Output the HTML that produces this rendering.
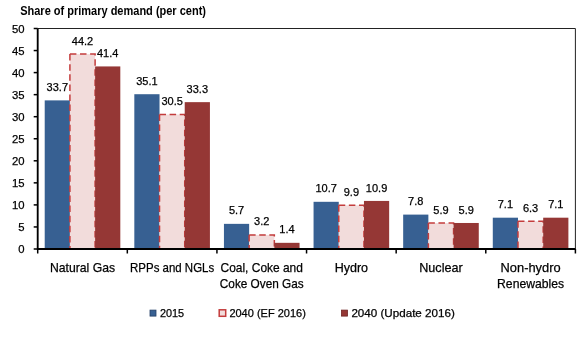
<!DOCTYPE html><html><head><meta charset="utf-8"><style>html,body{margin:0;padding:0;background:#fff;width:580px;height:338px;overflow:hidden}svg{display:block;will-change:transform}text{font-family:"Liberation Sans",sans-serif;fill:#000;stroke:#000;stroke-width:0.25px}</style></head><body>
<svg width="580" height="338" viewBox="0 0 580 338">
<text x="20.2" y="14.6" font-size="12" font-weight="bold" style="stroke-width:0" textLength="185.8" lengthAdjust="spacingAndGlyphs">Share of primary demand (per cent)</text>
<rect x="44.71" y="100.38" width="25.20" height="148.62" fill="#376092"/>
<text x="57.31" y="90.98" font-size="11" text-anchor="middle">33.7</text>
<rect x="69.91" y="54.08" width="25.20" height="194.92" fill="#F2DCDB"/>
<path d="M69.91,54.08 V249.00 M69.91,54.08 H95.11 V249.00" fill="none" stroke="#C43C3C" stroke-width="1.5" stroke-dasharray="6.5,3.6"/>
<text x="82.51" y="44.68" font-size="11" text-anchor="middle">44.2</text>
<rect x="95.11" y="66.43" width="25.20" height="182.57" fill="#953735"/>
<text x="107.71" y="57.03" font-size="11" text-anchor="middle">41.4</text>
<rect x="134.32" y="94.21" width="25.20" height="154.79" fill="#376092"/>
<text x="146.92" y="84.81" font-size="11" text-anchor="middle">35.1</text>
<rect x="159.52" y="114.50" width="25.20" height="134.50" fill="#F2DCDB"/>
<path d="M159.52,114.50 V249.00 M159.52,114.50 H184.72 V249.00" fill="none" stroke="#C43C3C" stroke-width="1.5" stroke-dasharray="6.5,3.6"/>
<text x="172.12" y="105.09" font-size="11" text-anchor="middle">30.5</text>
<rect x="184.72" y="102.15" width="25.20" height="146.85" fill="#953735"/>
<text x="197.32" y="92.75" font-size="11" text-anchor="middle">33.3</text>
<rect x="223.94" y="223.86" width="25.20" height="25.14" fill="#376092"/>
<text x="236.54" y="214.46" font-size="11" text-anchor="middle">5.7</text>
<rect x="249.14" y="234.89" width="25.20" height="14.11" fill="#F2DCDB"/>
<path d="M249.14,234.89 V249.00 M249.14,234.89 H274.34 V249.00" fill="none" stroke="#C43C3C" stroke-width="1.5" stroke-dasharray="6.5,3.6"/>
<text x="261.74" y="225.49" font-size="11" text-anchor="middle">3.2</text>
<rect x="274.34" y="242.83" width="25.20" height="6.17" fill="#953735"/>
<text x="286.94" y="233.43" font-size="11" text-anchor="middle">1.4</text>
<rect x="313.56" y="201.81" width="25.20" height="47.19" fill="#376092"/>
<text x="326.16" y="192.41" font-size="11" text-anchor="middle">10.7</text>
<rect x="338.76" y="205.34" width="25.20" height="43.66" fill="#F2DCDB"/>
<path d="M338.76,205.34 V249.00 M338.76,205.34 H363.96 V249.00" fill="none" stroke="#C43C3C" stroke-width="1.5" stroke-dasharray="6.5,3.6"/>
<text x="351.36" y="195.94" font-size="11" text-anchor="middle">9.9</text>
<rect x="363.96" y="200.93" width="25.20" height="48.07" fill="#953735"/>
<text x="376.56" y="191.53" font-size="11" text-anchor="middle">10.9</text>
<rect x="403.17" y="214.60" width="25.20" height="34.40" fill="#376092"/>
<text x="415.77" y="205.20" font-size="11" text-anchor="middle">7.8</text>
<rect x="428.37" y="222.98" width="25.20" height="26.02" fill="#F2DCDB"/>
<path d="M428.37,222.98 V249.00 M428.37,222.98 H453.57 V249.00" fill="none" stroke="#C43C3C" stroke-width="1.5" stroke-dasharray="6.5,3.6"/>
<text x="440.97" y="213.58" font-size="11" text-anchor="middle">5.9</text>
<rect x="453.57" y="222.98" width="25.20" height="26.02" fill="#953735"/>
<text x="466.17" y="213.58" font-size="11" text-anchor="middle">5.9</text>
<rect x="492.79" y="217.69" width="25.20" height="31.31" fill="#376092"/>
<text x="505.39" y="208.29" font-size="11" text-anchor="middle">7.1</text>
<rect x="517.99" y="221.22" width="25.20" height="27.78" fill="#F2DCDB"/>
<path d="M517.99,221.22 V249.00 M517.99,221.22 H543.19 V249.00" fill="none" stroke="#C43C3C" stroke-width="1.5" stroke-dasharray="6.5,3.6"/>
<text x="530.59" y="211.82" font-size="11" text-anchor="middle">6.3</text>
<rect x="543.19" y="217.69" width="25.20" height="31.31" fill="#953735"/>
<text x="555.79" y="208.29" font-size="11" text-anchor="middle">7.1</text>
<path d="M37.7,28.5 H575.4 V249.0" fill="none" stroke="#222" stroke-width="1"/>
<path d="M37.7,28.5 V249.0 H575.4" fill="none" stroke="#000" stroke-width="1.85"/>
<line x1="33.7" y1="249.0" x2="37.7" y2="249.0" stroke="#000" stroke-width="1.5"/>
<text x="24.50" y="253.10" font-size="11.3" text-anchor="end">0</text>
<line x1="33.7" y1="226.95" x2="37.7" y2="226.95" stroke="#000" stroke-width="1.5"/>
<text x="24.50" y="231.05" font-size="11.3" text-anchor="end">5</text>
<line x1="33.7" y1="204.9" x2="37.7" y2="204.9" stroke="#000" stroke-width="1.5"/>
<text x="24.50" y="209.00" font-size="11.3" text-anchor="end">10</text>
<line x1="33.7" y1="182.85" x2="37.7" y2="182.85" stroke="#000" stroke-width="1.5"/>
<text x="24.50" y="186.95" font-size="11.3" text-anchor="end">15</text>
<line x1="33.7" y1="160.8" x2="37.7" y2="160.8" stroke="#000" stroke-width="1.5"/>
<text x="24.50" y="164.90" font-size="11.3" text-anchor="end">20</text>
<line x1="33.7" y1="138.75" x2="37.7" y2="138.75" stroke="#000" stroke-width="1.5"/>
<text x="24.50" y="142.85" font-size="11.3" text-anchor="end">25</text>
<line x1="33.7" y1="116.69999999999999" x2="37.7" y2="116.69999999999999" stroke="#000" stroke-width="1.5"/>
<text x="24.50" y="120.80" font-size="11.3" text-anchor="end">30</text>
<line x1="33.7" y1="94.65" x2="37.7" y2="94.65" stroke="#000" stroke-width="1.5"/>
<text x="24.50" y="98.75" font-size="11.3" text-anchor="end">35</text>
<line x1="33.7" y1="72.6" x2="37.7" y2="72.6" stroke="#000" stroke-width="1.5"/>
<text x="24.50" y="76.70" font-size="11.3" text-anchor="end">40</text>
<line x1="33.7" y1="50.55000000000001" x2="37.7" y2="50.55000000000001" stroke="#000" stroke-width="1.5"/>
<text x="24.50" y="54.65" font-size="11.3" text-anchor="end">45</text>
<line x1="33.7" y1="28.5" x2="37.7" y2="28.5" stroke="#000" stroke-width="1.5"/>
<text x="24.50" y="32.60" font-size="11.3" text-anchor="end">50</text>
<line x1="37.7" y1="249.0" x2="37.7" y2="253.5" stroke="#000" stroke-width="1.5"/>
<line x1="127.31666666666666" y1="249.0" x2="127.31666666666666" y2="253.5" stroke="#000" stroke-width="1.5"/>
<line x1="216.93333333333334" y1="249.0" x2="216.93333333333334" y2="253.5" stroke="#000" stroke-width="1.5"/>
<line x1="306.54999999999995" y1="249.0" x2="306.54999999999995" y2="253.5" stroke="#000" stroke-width="1.5"/>
<line x1="396.16666666666663" y1="249.0" x2="396.16666666666663" y2="253.5" stroke="#000" stroke-width="1.5"/>
<line x1="485.7833333333333" y1="249.0" x2="485.7833333333333" y2="253.5" stroke="#000" stroke-width="1.5"/>
<line x1="575.4" y1="249.0" x2="575.4" y2="253.5" stroke="#000" stroke-width="1.5"/>
<text x="82.51" y="271.60" font-size="13" text-anchor="middle" textLength="65.2" lengthAdjust="spacingAndGlyphs">Natural Gas</text>
<text x="172.12" y="271.60" font-size="13" text-anchor="middle" textLength="84.1" lengthAdjust="spacingAndGlyphs">RPPs and NGLs</text>
<text x="261.74" y="271.60" font-size="13" text-anchor="middle" textLength="82.4" lengthAdjust="spacingAndGlyphs">Coal, Coke and</text>
<text x="261.74" y="288.10" font-size="13" text-anchor="middle" textLength="83.8" lengthAdjust="spacingAndGlyphs">Coke Oven Gas</text>
<text x="351.36" y="271.60" font-size="13" text-anchor="middle" textLength="33.4" lengthAdjust="spacingAndGlyphs">Hydro</text>
<text x="440.97" y="271.60" font-size="13" text-anchor="middle" textLength="43.5" lengthAdjust="spacingAndGlyphs">Nuclear</text>
<text x="530.59" y="271.60" font-size="13" text-anchor="middle" textLength="60" lengthAdjust="spacingAndGlyphs">Non-hydro</text>
<text x="530.59" y="288.10" font-size="13" text-anchor="middle" textLength="67" lengthAdjust="spacingAndGlyphs">Renewables</text>
<rect x="150.0" y="310.1" width="6.0" height="6.0" fill="#376092" stroke="#243F66" stroke-width="0.8"/>
<text x="159.89999999999998" y="317" font-size="11" textLength="24.2" lengthAdjust="spacingAndGlyphs">2015</text>
<rect x="219.2" y="309.8" width="6.5" height="6.5" fill="#F2DCDB" stroke="#C43C3C" stroke-width="1.5"/>
<text x="229.39999999999998" y="317" font-size="11" textLength="76.4" lengthAdjust="spacingAndGlyphs">2040 (EF 2016)</text>
<rect x="341.49999999999994" y="310.1" width="6.0" height="6.0" fill="#953735" stroke="#6E2422" stroke-width="0.8"/>
<text x="351.4" y="317" font-size="11" textLength="103.4" lengthAdjust="spacingAndGlyphs">2040 (Update 2016)</text>
</svg></body></html>
